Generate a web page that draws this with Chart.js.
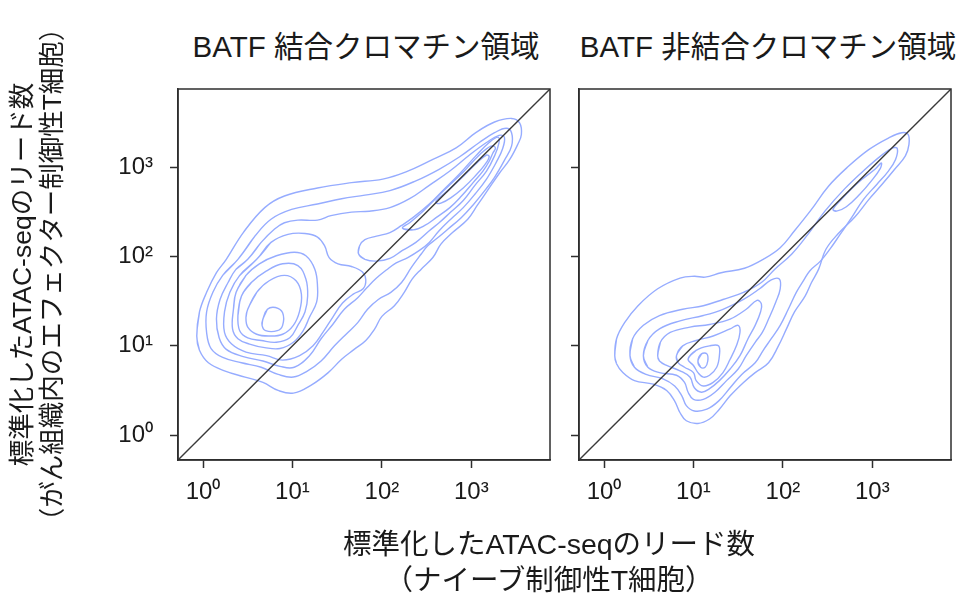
<!DOCTYPE html>
<html lang="ja">
<head>
<meta charset="UTF-8">
<title>BATF 結合 / 非結合クロマチン領域の ATAC-seq リード数</title>
<script src="https://cdn.jsdelivr.net/npm/chart.js"></script>
<style>
  body { margin: 0; background: #fff; font-family: "Liberation Sans", "Noto Sans CJK JP", sans-serif; color: #1a1a1a; }
  #wrap { position: relative; width: 967px; height: 599px; overflow: hidden; }
  canvas { position: absolute; top: 0; }
  .panelTitle { position: absolute; top: 27px; font-size: 29.5px; line-height: 40px; white-space: nowrap; transform: translateX(-50%); }
  #xLabel { position: absolute; left: 549px; top: 526px; font-size: 28.5px; line-height: 36px; text-align: center; white-space: nowrap; transform: translateX(-50%); }
</style>
</head>
<body>
<div id="wrap">
  <div class="panelTitle" style="left:366px">BATF 結合クロマチン領域</div>
  <div class="panelTitle" style="left:768px">BATF 非結合クロマチン領域</div>
  <canvas id="boundChart" width="560" height="599" style="left:0"></canvas>
  <canvas id="freeChart" width="407" height="599" style="left:560px"></canvas>
  <div id="xLabel">標準化したATAC-seqのリード数<br>（ナイーブ制御性T細胞）</div>
</div>

<script>
// all values are log10(normalized read count)
const axisMin = -0.28;
const axisMax = 3.88;
const tickLogs = [0, 1, 2, 3];
const tickLabels = ['10⁰', '10¹', '10²', '10³'];
const diagonal = [[-0.28, -0.28], [3.88, 3.88]];
const yTitle = ['標準化したATAC-seqのリード数', '（がん組織内のエフェクター制御性T細胞）'];

// density contours, BATF bound regions (x: naive Treg, y: tumour effector Treg)
const boundL1 = [[-0.07,1.11],[-0.04,1.38],[0.04,1.60],[0.15,1.82],[0.26,1.97],[0.45,2.27],[0.69,2.55],[0.91,2.68],[1.28,2.77],[1.66,2.83],[2.01,2.87],[2.27,2.95],[2.57,3.09],[2.83,3.22],[3.05,3.39],[3.26,3.51],[3.45,3.55],[3.54,3.50],[3.56,3.37],[3.52,3.26],[3.43,3.09],[3.31,2.93],[3.18,2.74],[3.07,2.58],[2.96,2.42],[2.79,2.27],[2.66,2.14],[2.57,1.99],[2.44,1.86],[2.34,1.75],[2.25,1.60],[2.14,1.45],[2.00,1.33],[1.92,1.19],[1.82,1.06],[1.69,0.96],[1.55,0.85],[1.40,0.70],[1.21,0.56],[1.01,0.47],[0.84,0.50],[0.67,0.59],[0.47,0.65],[0.24,0.72],[0.06,0.81],[-0.04,0.95]];
const boundL2 = [[0.39,1.97],[0.58,2.23],[0.76,2.42],[0.99,2.53],[1.28,2.59],[1.55,2.65],[1.81,2.69],[2.09,2.74],[2.38,2.85],[2.64,2.98],[2.87,3.12],[3.09,3.28],[3.26,3.39],[3.39,3.44],[3.45,3.39],[3.45,3.24],[3.37,3.08],[3.26,2.89],[3.15,2.74],[3.02,2.58],[2.89,2.44],[2.74,2.31],[2.61,2.20],[2.51,2.12],[2.44,2.03],[2.33,1.88],[2.22,1.71],[2.10,1.60],[1.96,1.52],[1.84,1.41],[1.73,1.26],[1.62,1.15],[1.47,1.00],[1.32,0.83],[1.17,0.72],[1.01,0.65],[0.84,0.68],[0.65,0.76],[0.43,0.81],[0.22,0.87],[0.09,0.97],[0.04,1.15],[0.04,1.38],[0.11,1.60],[0.22,1.79]];
const boundL3 = [[0.50,1.97],[0.65,2.16],[0.80,2.31],[0.91,2.38],[1.06,2.41],[1.28,2.41],[1.43,2.46],[1.66,2.50],[1.86,2.51],[2.09,2.55],[2.31,2.65],[2.53,2.80],[2.76,2.96],[2.98,3.14],[3.17,3.28],[3.31,3.36],[3.37,3.34],[3.35,3.21],[3.28,3.06],[3.17,2.87],[3.04,2.70],[2.91,2.55],[2.77,2.42],[2.64,2.29],[2.53,2.16],[2.42,2.07],[2.29,1.99],[2.16,1.93],[2.05,1.85],[1.94,1.76],[1.84,1.66],[1.73,1.54],[1.58,1.41],[1.45,1.24],[1.32,1.08],[1.19,0.89],[1.02,0.76],[0.86,0.77],[0.67,0.83],[0.45,0.88],[0.26,0.96],[0.18,1.09],[0.15,1.30],[0.19,1.52],[0.28,1.71],[0.37,1.86]];
const boundL4a = [[0.60,1.97],[0.76,2.16],[0.95,2.25],[1.14,2.26],[1.28,2.22],[1.36,2.12],[1.41,1.99],[1.51,1.92],[1.66,1.89],[1.78,1.83],[1.82,1.74],[1.79,1.64],[1.68,1.58],[1.56,1.48],[1.45,1.32],[1.34,1.15],[1.23,1.00],[1.08,0.89],[0.89,0.84],[0.71,0.89],[0.48,0.93],[0.32,1.02],[0.24,1.15],[0.24,1.38],[0.30,1.60],[0.41,1.79]];
const boundL4b = [[1.74,2.03],[1.75,2.12],[1.81,2.19],[1.94,2.23],[2.09,2.27],[2.22,2.35],[2.35,2.44],[2.53,2.59],[2.68,2.74],[2.87,2.93],[3.05,3.13],[3.20,3.28],[3.30,3.34],[3.31,3.28],[3.26,3.13],[3.17,2.96],[3.04,2.80],[2.91,2.63],[2.77,2.50],[2.64,2.38],[2.53,2.29],[2.38,2.16],[2.23,2.07],[2.09,1.98],[1.94,1.95],[1.81,1.97]];
const boundL5a = [[0.37,1.60],[0.48,1.79],[0.63,1.92],[0.82,2.01],[1.02,2.05],[1.15,2.01],[1.25,1.86],[1.28,1.67],[1.27,1.49],[1.19,1.32],[1.12,1.17],[1.01,1.04],[0.86,0.97],[0.69,0.98],[0.52,1.02],[0.39,1.08],[0.33,1.19],[0.34,1.41]];
const boundL5b = [[2.23,2.32],[2.31,2.38],[2.46,2.51],[2.68,2.73],[2.91,2.95],[3.09,3.14],[3.22,3.24],[3.27,3.22],[3.24,3.16],[3.20,3.07],[3.13,2.96],[3.02,2.83],[2.89,2.68],[2.76,2.55],[2.61,2.44],[2.48,2.35],[2.35,2.30]];
const boundL6a = [[0.43,1.56],[0.54,1.71],[0.71,1.84],[0.89,1.92],[1.06,1.90],[1.15,1.75],[1.17,1.56],[1.14,1.38],[1.06,1.23],[0.97,1.09],[0.82,1.04],[0.65,1.06],[0.50,1.09],[0.41,1.17],[0.39,1.34]];
const boundL6b = [[2.61,2.63],[2.76,2.76],[2.92,2.91],[3.07,3.06],[3.17,3.14],[3.20,3.12],[3.15,3.03],[3.04,2.90],[2.91,2.77],[2.77,2.66],[2.66,2.60],[2.61,2.60]];
const boundL7 = [[0.50,1.41],[0.60,1.60],[0.74,1.73],[0.91,1.79],[1.04,1.73],[1.10,1.58],[1.08,1.39],[1.01,1.23],[0.89,1.13],[0.74,1.11],[0.60,1.13],[0.50,1.21],[0.48,1.32]];
const boundL8 = [[0.67,1.30],[0.72,1.41],[0.81,1.43],[0.89,1.37],[0.89,1.23],[0.83,1.17],[0.70,1.17],[0.66,1.23]];

// density contours, BATF non-bound regions
const freeL1 = [[0.12,0.89],[0.14,1.08],[0.23,1.26],[0.38,1.45],[0.60,1.64],[0.85,1.76],[1.01,1.78],[1.13,1.77],[1.31,1.82],[1.57,1.87],[1.78,1.97],[1.97,2.10],[2.13,2.29],[2.32,2.53],[2.51,2.79],[2.73,3.01],[2.96,3.20],[3.18,3.33],[3.33,3.39],[3.40,3.37],[3.41,3.26],[3.37,3.13],[3.25,2.98],[3.10,2.80],[2.96,2.64],[2.81,2.45],[2.62,2.26],[2.48,2.08],[2.40,1.86],[2.32,1.71],[2.25,1.56],[2.13,1.38],[2.04,1.19],[1.95,1.00],[1.84,0.81],[1.69,0.70],[1.56,0.59],[1.41,0.44],[1.29,0.29],[1.18,0.18],[1.05,0.13],[0.92,0.16],[0.85,0.25],[0.79,0.38],[0.70,0.50],[0.55,0.57],[0.34,0.61],[0.21,0.70],[0.14,0.80]];
const freeL2 = [[0.29,0.89],[0.32,1.08],[0.44,1.23],[0.62,1.34],[0.88,1.41],[1.11,1.45],[1.33,1.52],[1.56,1.60],[1.76,1.71],[1.91,1.86],[2.10,2.03],[2.28,2.25],[2.47,2.51],[2.69,2.76],[2.92,2.98],[3.12,3.15],[3.23,3.22],[3.28,3.21],[3.26,3.09],[3.18,2.96],[3.05,2.81],[2.90,2.64],[2.77,2.44],[2.64,2.25],[2.53,2.09],[2.42,1.95],[2.30,1.84],[2.23,1.73],[2.15,1.60],[2.06,1.41],[1.97,1.23],[1.87,1.08],[1.78,0.95],[1.69,0.81],[1.54,0.68],[1.41,0.53],[1.28,0.38],[1.15,0.29],[1.01,0.27],[0.92,0.33],[0.87,0.44],[0.79,0.55],[0.66,0.63],[0.47,0.68],[0.34,0.76]];
const freeL3 = [[0.44,0.89],[0.49,1.06],[0.62,1.19],[0.85,1.28],[1.11,1.34],[1.33,1.41],[1.56,1.52],[1.74,1.64],[1.87,1.74],[1.96,1.75],[1.97,1.64],[1.92,1.49],[1.84,1.30],[1.77,1.15],[1.69,1.04],[1.59,0.89],[1.50,0.74],[1.37,0.61],[1.24,0.48],[1.11,0.40],[1.00,0.40],[0.94,0.48],[0.90,0.59],[0.81,0.67],[0.62,0.70],[0.49,0.76]];
const freeL4 = [[0.60,0.89],[0.63,1.04],[0.74,1.15],[0.96,1.21],[1.18,1.24],[1.41,1.30],[1.59,1.41],[1.71,1.51],[1.76,1.47],[1.75,1.38],[1.69,1.23],[1.61,1.08],[1.52,0.89],[1.41,0.74],[1.29,0.61],[1.18,0.52],[1.09,0.48],[1.01,0.53],[0.96,0.65],[0.85,0.72],[0.70,0.78],[0.62,0.83]];
const freeL5 = [[0.81,0.89],[0.88,1.00],[1.03,1.06],[1.22,1.11],[1.41,1.19],[1.50,1.23],[1.52,1.15],[1.48,1.00],[1.41,0.85],[1.33,0.70],[1.22,0.59],[1.11,0.55],[1.03,0.61],[1.00,0.70],[0.90,0.76],[0.83,0.81]];
const freeL6 = [[0.94,0.85],[1.03,0.95],[1.18,1.00],[1.28,1.00],[1.29,0.89],[1.26,0.76],[1.18,0.67],[1.11,0.65],[1.05,0.70],[1.00,0.78]];
const freeL7 = [[1.05,0.83],[1.09,0.91],[1.15,0.91],[1.16,0.83],[1.13,0.76],[1.08,0.76]];
const freeU3 = [[2.56,2.53],[2.66,2.65],[2.84,2.83],[3.03,2.98],[3.10,3.05],[3.09,2.99],[2.99,2.85],[2.86,2.70],[2.71,2.56],[2.60,2.51]];

const boundContours = [boundL1, boundL2, boundL3, boundL4a, boundL4b, boundL5a, boundL5b, boundL6a, boundL6b, boundL7, boundL8];
const freeContours = [freeL1, freeL2, freeL3, freeL4, freeL5, freeL6, freeL7, freeU3];

const inkColor = '#1a1a1a';
const frameColor = '#2e2e2e';
const contourColor = 'rgb(150,172,255)';

Chart.defaults.font.family = '"Liberation Sans", "Noto Sans CJK JP", sans-serif';
Chart.defaults.color = inkColor;

const panelFrame = {
    id: 'panelFrame',
    afterDatasetsDraw(chart) {
        const { ctx, chartArea: a } = chart;
        ctx.save();
        ctx.strokeStyle = frameColor;
        ctx.lineWidth = 1.5;
        ctx.strokeRect(a.left, a.top, a.right - a.left, a.bottom - a.top);
        ctx.restore();
    }
};

function toXY(pairs) {
    return pairs.map(p => ({ x: p[0], y: p[1] }));
}

// wrap a contour round once more so the spline closes without a corner
function closedLoop(pairs) {
    return toXY([pairs[pairs.length - 1], ...pairs, pairs[0], pairs[1]]);
}

function buildDatasets(contours) {
    const sets = [{
        data: toXY(diagonal),
        showLine: true,
        borderColor: '#3a3a3a',
        borderWidth: 1.4,
        pointRadius: 0,
        tension: 0
    }];
    contours.forEach(c => {
        sets.push({
            data: closedLoop(c),
            showLine: true,
            borderColor: contourColor,
            borderWidth: 1.4,
            pointRadius: 0,
            tension: 0.4
        });
    });
    return sets;
}

function axis(fitSize, isY, showLabels, title) {
    const a = {
        type: 'linear',
        min: axisMin,
        max: axisMax,
        afterBuildTicks: s => { s.ticks = tickLogs.map(v => ({ value: v })); },
        afterFit: s => { if (isY) s.width = fitSize; else s.height = fitSize; },
        grid: { drawOnChartArea: false, drawTicks: true, tickLength: 8, tickWidth: 1.5, color: frameColor },
        border: { display: true, color: frameColor, width: 1.5 },
        ticks: {
            autoSkip: false,
            maxRotation: 0,
            font: { size: 24 },
            color: inkColor,
            padding: isY ? 17 : 10,
            callback: (v, i) => showLabels ? tickLabels[i] : ''
        }
    };
    if (title) {
        a.title = { display: true, text: title, color: inkColor, font: { size: 26.5, lineHeight: 1.12 }, padding: { top: 9, bottom: 0 } };
    }
    return a;
}

function panel(canvasId, contours, yWidth, showYLabels, padRight, title) {
    return new Chart(document.getElementById(canvasId), {
        type: 'scatter',
        data: { datasets: buildDatasets(contours) },
        options: {
            responsive: false,
            animation: false,
            events: [],
            layout: { padding: { top: 89, right: padRight, bottom: 0, left: 0 } },
            plugins: { legend: { display: false }, tooltip: { enabled: false } },
            scales: {
                x: axis(139, false, true),
                y: axis(yWidth, true, showYLabels, title)
            }
        },
        plugins: [panelFrame]
    });
}

panel('boundChart', boundContours, 178, true, 10, yTitle);
panel('freeChart', freeContours, 19, false, 16, null);
</script>
</body>
</html>
